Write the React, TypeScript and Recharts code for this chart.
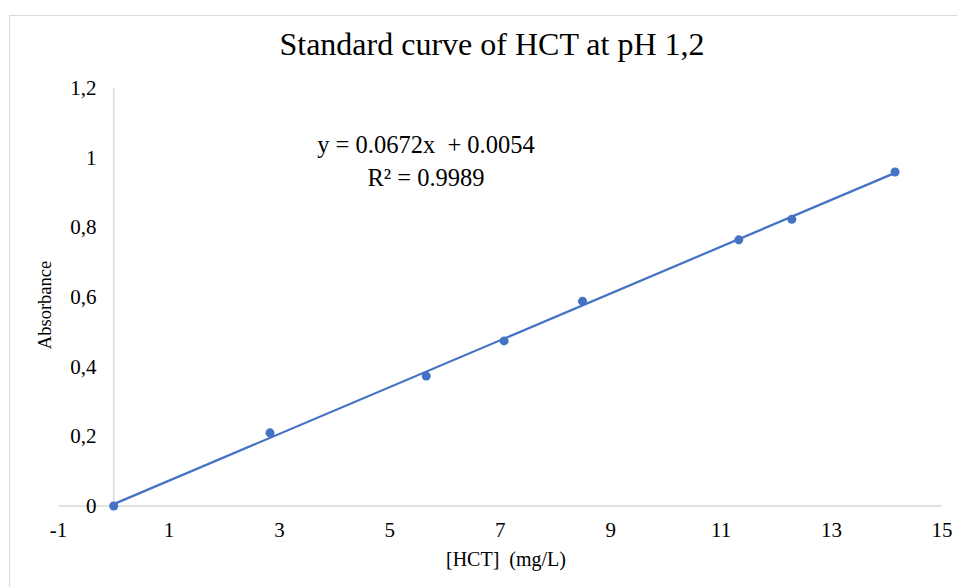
import React from "react";
import { ScatterChart, Scatter, XAxis, YAxis, ReferenceLine } from "recharts";

const concentrations = [0, 2.83, 5.66, 7.07, 8.49, 11.32, 12.28, 14.15];
const absorbances = [0, 0.21, 0.373, 0.474, 0.588, 0.764, 0.823, 0.959];
const xTicks = [-1, 1, 3, 5, 7, 9, 11, 13, 15];
const yTicks = [0, 0.2, 0.4, 0.6, 0.8, 1, 1.2];
const slope = 0.0672;
const intercept = 0.0054;
const equationText = "y = 0.0672x\u00a0 + 0.0054";
const r2Text = "R² = 0.9989";
const titleText = "Standard curve of HCT at pH 1,2";

const points = concentrations.map((x, i) => ({ x, y: absorbances[i] }));
const xMin = Math.min(...concentrations);
const xMax = Math.max(...concentrations);
const trend = [
  { x: xMin, y: slope * xMin + intercept },
  { x: xMax, y: slope * xMax + intercept },
];

const BLUE = "#4472C4";
const GRID = "#d9d9d9";
const FONT = "'Liberation Serif', 'Times New Roman', serif";

const fmt = (v: number) => String(Math.round(v * 10) / 10).replace(".", ",");

const YTick = (props: any) => {
  const { x, y, payload } = props;
  return (
    <text x={x + 38} y={y} textAnchor="end" dominantBaseline="central" fontFamily={FONT} fontSize={21} fill="#000">
      {fmt(payload.value)}
    </text>
  );
};

export default function App() {
  return (
    <div style={{ position: "absolute", left: 0, top: 0, width: 957, height: 587, background: "#fff", fontFamily: FONT }}>
      <div style={{ position: "absolute", left: 9, top: 15, width: 948, height: 572, borderTop: `1.5px solid ${GRID}`, borderLeft: `1.5px solid ${GRID}` }} />
      <ScatterChart width={957} height={587} margin={{ top: 88, right: 15, bottom: 0, left: 0 }}>
        <XAxis
          type="number"
          dataKey="x"
          domain={[-1, 15]}
          ticks={xTicks}
          allowDataOverflow
          tickLine={false}
          axisLine={{ stroke: GRID, strokeWidth: 1.5 }}
          tick={{ fontFamily: FONT, fontSize: 21, fill: "#000" }}
          tickMargin={10}
          height={81}
          interval={0}
        />
        <YAxis
          type="number"
          dataKey="y"
          domain={[0, 1.2]}
          ticks={yTicks}
          tickLine={false}
          axisLine={false}
          tickSize={0}
          tickMargin={0}
          tick={<YTick />}
          width={58.5}
          interval={0}
        />
        <ReferenceLine x={0} stroke={GRID} strokeWidth={1.5} />
        <Scatter
          data={trend}
          line={{ stroke: BLUE, strokeWidth: 2.25 }}
          shape={() => <g />}
          isAnimationActive={false}
        />
        <Scatter data={points} fill={BLUE} shape="circle" isAnimationActive={false} />
      </ScatterChart>
      <div style={{ position: "absolute", left: 0, width: 984, top: 26, textAlign: "center", fontSize: 32, color: "#000", whiteSpace: "nowrap" }}>
        {titleText}
      </div>
      <div style={{ position: "absolute", left: 226, width: 400, top: 128, textAlign: "center", fontSize: 24.5, lineHeight: "33px", color: "#000", whiteSpace: "nowrap" }}>
        <div>{equationText}</div>
        <div>{r2Text}</div>
      </div>
      <div style={{ position: "absolute", left: 306, width: 400, top: 548, textAlign: "center", fontSize: 20, color: "#000", whiteSpace: "pre" }}>
        {"[HCT]  (mg/L)"}
      </div>
      <div style={{ position: "absolute", left: 45, top: 305, transform: "translate(-50%, -50%) rotate(-90deg)", fontSize: 18.5, color: "#000", whiteSpace: "nowrap" }}>
        Absorbance
      </div>
    </div>
  );
}
